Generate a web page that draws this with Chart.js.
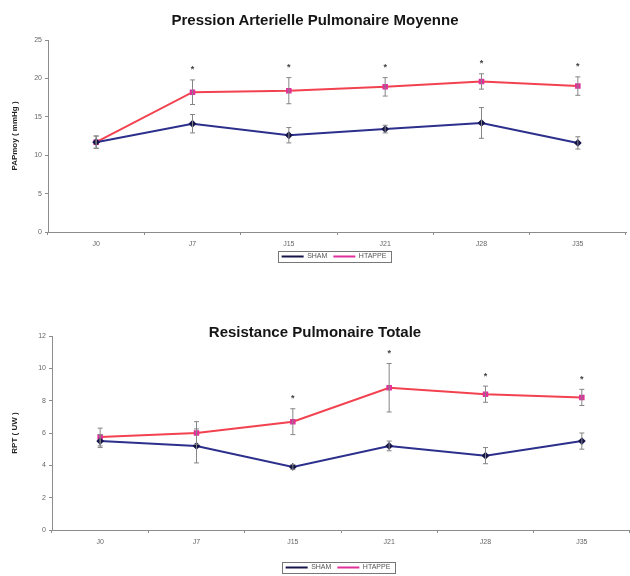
<!DOCTYPE html>
<html>
<head>
<meta charset="utf-8">
<script src="https://cdn.jsdelivr.net/npm/chart.js@4/dist/chart.umd.min.js"></script>
<style>
  body { margin: 0; background: #fff; width: 630px; height: 576px; position: relative; overflow: hidden; font-family: "Liberation Sans", Arial, sans-serif; }
  .panel { position: absolute; left: 0; width: 630px; }
  .title { position: absolute; left: 0; width: 630px; text-align: center; font-weight: bold; font-size: 15px; line-height: 17px; color: #151515; }
</style>
</head>
<body>
<div class="panel" style="top:0;height:275px"><canvas id="pap-chart" width="630" height="275"></canvas></div>
<div class="title" style="top:11px">Pression Arterielle Pulmonaire Moyenne</div>
<div class="panel" style="top:290px;height:291px"><canvas id="rpt-chart" width="630" height="291"></canvas></div>
<div class="title" style="top:323px">Resistance Pulmonaire Totale</div>
<script>
// Time points
const days = ['J0', 'J7', 'J15', 'J21', 'J28', 'J35'];

// PAPmoy (mmHg), mean and error
const papSham = [11.7, 14.1, 12.6, 13.4, 14.2, 11.6];
const papShamErr = [0.8, 1.2, 1.0, 0.5, 2.0, 0.8];
const papHtappe = [11.7, 18.2, 18.4, 18.9, 19.6, 19.0];
const papHtappeErr = [0.8, 1.6, 1.7, 1.2, 1.0, 1.2];
const papStars = [false, true, true, true, true, true];

// RPT (UW), mean and error
const rptSham = [5.5, 5.2, 3.9, 5.2, 4.6, 5.5];
const rptShamErr = [0.4, 1.05, 0.15, 0.3, 0.5, 0.5];
const rptHtappe = [5.75, 6.0, 6.7, 8.8, 8.4, 8.2];
const rptHtappeErr = [0.55, 0.7, 0.8, 1.5, 0.5, 0.5];
const rptStars = [false, false, true, true, true, true];

// y axis ranges
const papYMax = 25, papYStep = 5;
const rptYMax = 12, rptYStep = 2;

const AXIS_GRAY = '#8c8c8c';
const TICK_GRAY = '#666';
const FONT = '"Liberation Sans", Arial, sans-serif';

// Draws vertical error bars plus the significance stars above HTAPPE
const errorBarPlugin = {
  id: 'errorBars',
  afterDatasetsDraw(chart, args, opts) {
    const ctx = chart.ctx;
    const yScale = chart.scales.y;
    chart.data.datasets.forEach((ds, i) => {
      const meta = chart.getDatasetMeta(i);
      meta.data.forEach((pt, j) => {
        const v = ds.data[j];
        const e = ds.errors[j];
        const top = yScale.getPixelForValue(v + e);
        const bot = yScale.getPixelForValue(v - e);
        ctx.save();
        ctx.strokeStyle = '#858585';
        ctx.lineWidth = 1;
        ctx.beginPath();
        ctx.moveTo(pt.x, top);
        ctx.lineTo(pt.x, bot);
        ctx.moveTo(pt.x - 2.5, top);
        ctx.lineTo(pt.x + 2.5, top);
        ctx.moveTo(pt.x - 2.5, bot);
        ctx.lineTo(pt.x + 2.5, bot);
        ctx.stroke();
        // star above the HTAPPE bar when significant
        if (i === 1 && opts.stars && opts.stars[j]) {
          ctx.fillStyle = '#444';
          ctx.font = 'bold 9px ' + FONT;
          ctx.textAlign = 'center';
          ctx.textBaseline = 'middle';
          ctx.fillText('*', pt.x, top - 10);
        }
        ctx.restore();
      });
    });
  }
};

// Moves the legend a bit right and frames it, like the spreadsheet legend box
const legendBoxPlugin = {
  id: 'legendBox',
  afterUpdate(chart, args, opts) {
    const lg = chart.legend;
    if (!lg || !opts.shift) return;
    lg.left += opts.shift;
    lg.right += opts.shift;
    lg.legendHitBoxes.forEach(b => { b.left += opts.shift; });
  },
  afterDraw(chart) {
    const boxes = chart.legend && chart.legend.legendHitBoxes;
    if (!boxes || !boxes.length) return;
    const left = Math.min(...boxes.map(b => b.left)) - 4;
    const right = Math.max(...boxes.map(b => b.left + b.width)) + 4;
    const top = Math.min(...boxes.map(b => b.top)) - 2;
    const bottom = Math.max(...boxes.map(b => b.top + b.height)) + 2;
    const ctx = chart.ctx;
    ctx.save();
    ctx.strokeStyle = '#777';
    ctx.lineWidth = 1;
    ctx.strokeRect(Math.round(left) + 0.5, Math.round(top) + 0.5, Math.round(right - left), Math.round(bottom - top));
    ctx.restore();
  }
};

function buildChart(canvasId, sham, shamErr, htappe, htappeErr, stars, yMax, yStep, yTitle, padding, yWidth, xHeight) {
  const ctx = document.getElementById(canvasId);
  return new Chart(ctx, {
    type: 'line',
    data: {
      labels: days,
      datasets: [
        {
          label: 'SHAM',
          data: sham,
          errors: shamErr,
          borderColor: '#2c2f8c',
          borderWidth: 2,
          pointStyle: 'rectRot',
          pointRadius: 2.5,
          pointBackgroundColor: '#15154a',
          pointBorderColor: '#15154a',
          tension: 0
        },
        {
          label: 'HTAPPE',
          data: htappe,
          errors: htappeErr,
          borderColor: '#f2424f',
          borderWidth: 2,
          pointStyle: 'rect',
          pointRadius: 2.5,
          pointBackgroundColor: '#e0309a',
          pointBorderColor: '#e0309a',
          tension: 0
        }
      ]
    },
    options: {
      responsive: false,
      animation: false,
      layout: { padding: padding, autoPadding: false },
      plugins: {
        title: { display: false },
        tooltip: { enabled: false },
        errorBars: { stars: stars },
        legendBox: { shift: 21 },
        legend: {
          position: 'bottom',
          labels: {
            usePointStyle: true,
            pointStyle: 'line',
            pointStyleWidth: 22,
            boxHeight: 7,
            padding: 6,
            color: '#555',
            font: { size: 7, family: FONT }
          }
        }
      },
      scales: {
        x: {
          offset: true,
          grid: { offset: true, drawOnChartArea: false, tickLength: 3, color: AXIS_GRAY },
          border: { color: AXIS_GRAY, width: 1 },
          ticks: { color: TICK_GRAY, padding: 5, font: { size: 7, family: FONT } },
          afterFit(scale) {
            scale.height = xHeight;
            scale.paddingLeft = 0;
            scale.paddingRight = 0;
          }
        },
        y: {
          min: 0,
          max: yMax,
          ticks: { stepSize: yStep, color: TICK_GRAY, padding: 3, font: { size: 7, family: FONT } },
          grid: { drawOnChartArea: false, tickLength: 3, color: AXIS_GRAY },
          border: { color: AXIS_GRAY, width: 1 },
          title: {
            display: true,
            text: yTitle,
            color: '#222',
            padding: { top: 10, bottom: 0 },
            font: { size: 8, weight: 'bold', family: FONT }
          },
          afterFit(scale) { scale.width = yWidth; }
        }
      }
    },
    plugins: [errorBarPlugin, legendBoxPlugin]
  });
}

buildChart('pap-chart', papSham, papShamErr, papHtappe, papHtappeErr, papStars,
  papYMax, papYStep, 'PAPmoy ( mmHg )', { top: 40, right: 4, left: 0, bottom: 5 }, 48, 15);

buildChart('rpt-chart', rptSham, rptShamErr, rptHtappe, rptHtappeErr, rptStars,
  rptYMax, rptYStep, 'RPT ( UW )', { top: 46, right: -4, left: 0, bottom: 0 }, 52, 28);
</script>
</body>
</html>
